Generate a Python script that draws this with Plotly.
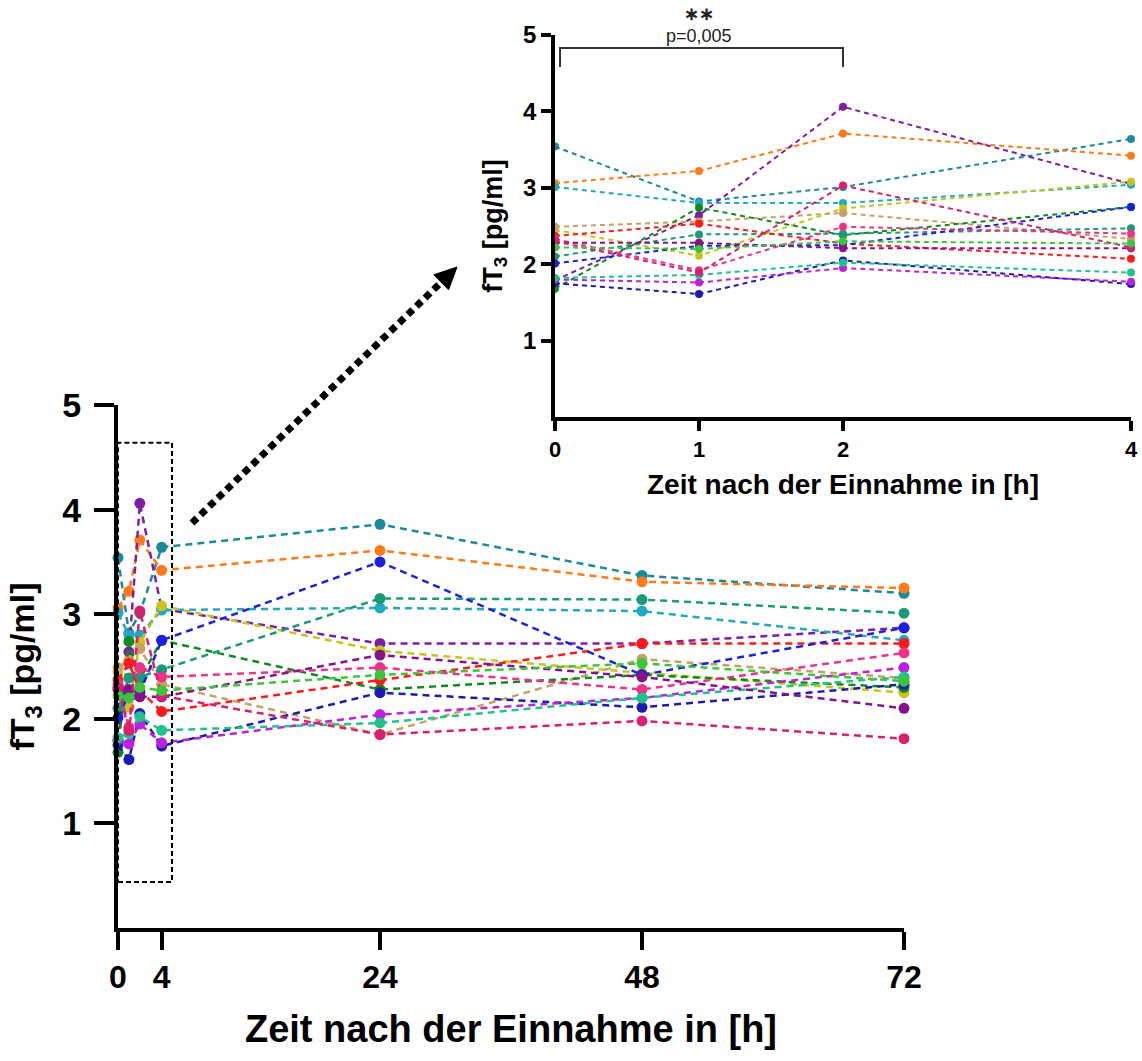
import plotly.graph_objects as go

# ---- data ----
TIMES = [0, 1, 2, 4, 24, 48, 72]
INSET_TIMES = [0, 1, 2, 4]
MAIN_TICKS = [0, 4, 24, 48, 72]
INSET_TICKS = [0, 1, 2, 4]
Y_TICKS = [1, 2, 3, 4, 5]

teal       = [3.54, 2.82, 3.01, 3.64, 3.86, 3.37, 3.20]
orange     = [3.06, 3.22, 3.71, 3.42, 3.61, 3.31, 3.25]
purple     = [1.79, 2.64, 4.06, 3.05, 2.72, 2.72, 2.87]
cyan       = [3.01, 2.80, 2.80, 3.04, 3.06, 3.03, 2.75]
yellow     = [2.45, 2.11, 2.73, 3.08, 2.65, 2.44, 2.25]
tan        = [2.49, 2.56, 2.67, 2.33, 1.85, 2.57, 2.39]
green      = [1.68, 2.74, 2.38, 2.75, 2.28, 2.42, 2.30]
tealgreen  = [2.10, 2.39, 2.40, 2.47, 3.15, 3.14, 3.01]
red        = [2.37, 2.53, 2.27, 2.07, 2.37, 2.72, 2.72]
blue       = [2.01, 2.24, 2.25, 2.75, 3.50, 2.42, 2.87]
navy       = [1.75, 1.61, 2.05, 1.74, 2.25, 2.11, 2.33]
pink       = [2.33, 1.92, 2.49, 2.40, 2.49, 2.28, 2.63]
magenta    = [1.80, 1.76, 1.95, 1.77, 2.04, 2.20, 2.49]
lightteal  = [1.82, 1.86, 2.02, 1.89, 1.96, 2.20, 2.40]
darkpurple = [2.28, 2.28, 2.21, 2.21, 2.61, 2.40, 2.10]
rose       = [2.30, 1.89, 3.03, 2.22, 1.85, 1.98, 1.81]
lime       = [2.22, 2.20, 2.30, 2.27, 2.42, 2.53, 2.36]

SERIES = [
    ("teal", teal, "#1b8a9c"),
    ("orange", orange, "#ff7a1a"),
    ("purple", purple, "#7d1fa5"),
    ("cyan", cyan, "#22a8c2"),
    ("yellow", yellow, "#c8c41c"),
    ("tan", tan, "#c9a064"),
    ("green", green, "#108a1e"),
    ("tealgreen", tealgreen, "#1a9a78"),
    ("red", red, "#ff1a1a"),
    ("blue", blue, "#1a22e0"),
    ("navy", navy, "#1c1cb0"),
    ("pink", pink, "#ee3388"),
    ("magenta", magenta, "#bb22dd"),
    ("lightteal", lightteal, "#22c28e"),
    ("darkpurple", darkpurple, "#86138a"),
    ("rose", rose, "#d8206e"),
    ("lime", lime, "#3cc43c"),
]

W, H = 1142, 1061
FONT = "Liberation Sans, Arial, sans-serif"


def px(x):
    return x / W


def py(y):
    return 1 - y / H


fig = go.Figure()
for name, vals, col in SERIES:
    fig.add_trace(go.Scatter(
        x=TIMES, y=vals, mode="lines+markers", name=name,
        line=dict(color=col, width=2.5, dash="7px,5px"),
        marker=dict(color=col, size=11),
        cliponaxis=False, showlegend=False, xaxis="x", yaxis="y"))
for name, vals, col in SERIES:
    fig.add_trace(go.Scatter(
        x=INSET_TIMES, y=vals[:4], mode="lines+markers", name=name,
        line=dict(color=col, width=2, dash="5px,4px"),
        marker=dict(color=col, size=8),
        cliponaxis=False, showlegend=False, xaxis="x2", yaxis="y2"))

axis_common = dict(showgrid=False, zeroline=False, showline=True,
                   linecolor="black", ticks="outside", tickcolor="black",
                   automargin=False)

fig.update_layout(
    width=W, height=H,
    template="none",
    margin=dict(l=0, r=0, t=0, b=0),
    paper_bgcolor="white",
    plot_bgcolor="rgba(0,0,0,0)",
    font=dict(family=FONT, color="black"),
    xaxis=dict(domain=[px(118), px(904)], range=[0, 72], tickvals=MAIN_TICKS,
               linewidth=4, tickwidth=4, ticklen=18,
               tickfont=dict(size=32, weight="bold"),
               title=dict(text="Zeit nach der Einnahme in [h]",
                          font=dict(size=38, weight="bold"), standoff=22),
               anchor="y", **axis_common),
    yaxis=dict(domain=[py(928), py(405)], range=[0, 5], tickvals=Y_TICKS,
               linewidth=4, tickwidth=4, ticklen=20, ticklabelstandoff=6,
               tickfont=dict(size=34, weight="bold"),
               title=dict(text="fT<sub>3</sub> [pg/ml]",
                          font=dict(size=34, weight="bold"), standoff=18),
               anchor="x", **axis_common),
    xaxis2=dict(domain=[px(555), px(1131)], range=[0, 4], tickvals=INSET_TICKS,
                linewidth=3.5, tickwidth=3.5, ticklen=10,
                tickfont=dict(size=22, weight="bold"),
                title=dict(text="Zeit nach der Einnahme in [h]",
                           font=dict(size=28, weight="bold"), standoff=14),
                anchor="y2", **axis_common),
    yaxis2=dict(domain=[py(417), py(35)], range=[0, 5], tickvals=Y_TICKS,
                linewidth=3.5, tickwidth=3.5, ticklen=10,
                tickfont=dict(size=24, weight="bold"),
                title=dict(text="fT<sub>3</sub> [pg/ml]",
                           font=dict(size=27, weight="bold"), standoff=14),
                anchor="x2", **axis_common),
)

# dashed zoom box around 0-4 h in main plot
fig.add_shape(type="rect", xref="x", yref="y", x0=0, x1=4.95, y0=0.44, y1=4.64,
              line=dict(color="black", width=2, dash="5px,3px"))

# dotted arrow
tip = (457, 267)
base = (441.2, 282.3)
fig.add_shape(type="line", xref="paper", yref="paper",
              x0=px(192), y0=py(523), x1=px(base[0]), y1=py(base[1]),
              line=dict(color="black", width=7, dash="7px,5px"))
fig.add_shape(type="path", xref="paper", yref="paper",
              path=f"M {px(tip[0])},{py(tip[1])} L {px(448.6)},{py(289.8)} "
                   f"L {px(433.8)},{py(274.8)} Z",
              fillcolor="black", line=dict(color="black", width=1))

# significance bracket in inset
fig.add_shape(type="path", xref="x2", yref="y2",
              path="M 0.035,4.58 L 0.035,4.83 L 2,4.83 L 2,4.58",
              line=dict(color="#333333", width=2))
fig.add_annotation(xref="paper", yref="paper", x=px(699), y=py(36),
                   text="p=0,005", showarrow=False, yanchor="middle",
                   font=dict(size=18, color="#222222"))
fig.add_annotation(xref="paper", yref="paper", x=px(699), y=py(14),
                   text="∗∗", showarrow=False, yanchor="middle",
                   font=dict(size=18, color="#222222", weight="bold"))

fig.write_html("out.html", config={"displayModeBar": False},
               post_script="document.body.style.margin='0';")
